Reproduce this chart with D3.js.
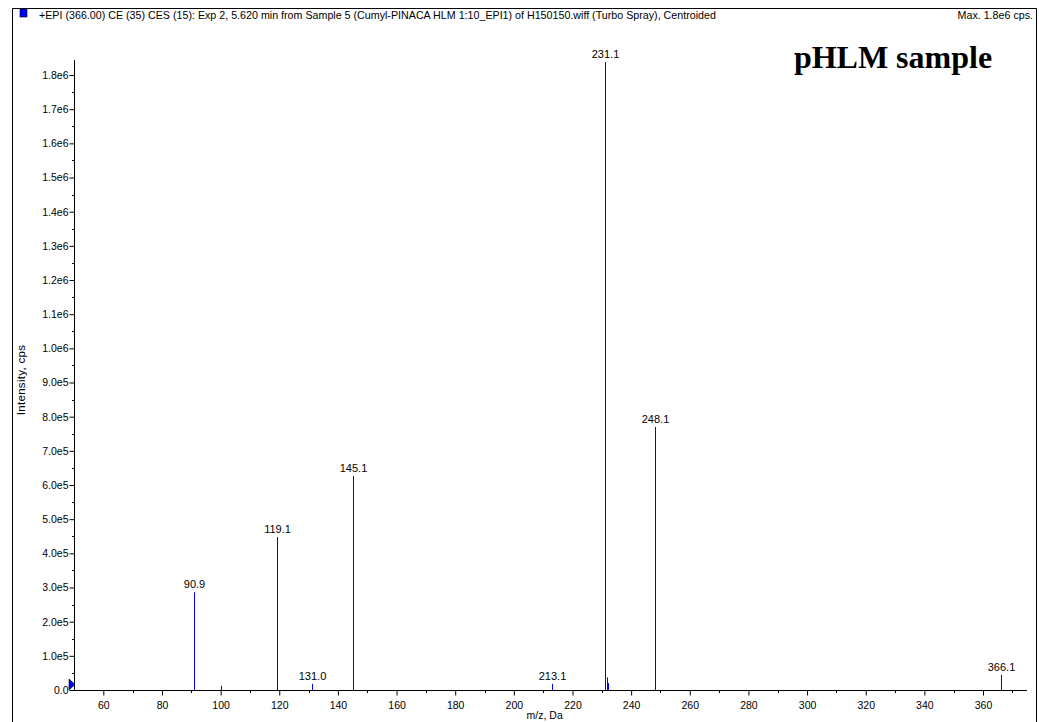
<!DOCTYPE html>
<html>
<head>
<meta charset="utf-8">
<script src="https://cdn.jsdelivr.net/npm/d3@7"></script>
<style>
  html, body { margin: 0; padding: 0; background: #fff; }
  svg { display: block; }
  text { font-family: "Liberation Sans", Arial, sans-serif; fill: #000; }
</style>
</head>
<body>
<svg id="chart" width="1039" height="722"></svg>
<script>
// ---- data ----
const peakMz     = [90.9, 100.0, 119.1, 131.0, 145.1, 213.1, 231.1, 231.6, 232.1, 248.1, 366.1];
const peakInt    = [2.86e5, 1.2e4, 4.48e5, 1.8e4, 6.26e5, 1.8e4, 1.838e6, 3.7e4, 2.0e4, 7.70e5, 4.4e4];
const peakLabels = ["90.9", "", "119.1", "131.0", "145.1", "213.1", "231.1", "", "", "248.1", "366.1"];
const xTicks     = [60, 80, 100, 120, 140, 160, 180, 200, 220, 240, 260, 280, 300, 320, 340, 360];
const yTicks     = [0, 1e5, 2e5, 3e5, 4e5, 5e5, 6e5, 7e5, 8e5, 9e5, 1e6, 1.1e6, 1.2e6, 1.3e6, 1.4e6, 1.5e6, 1.6e6, 1.7e6, 1.8e6];
const yTickLabels = ["0.0","1.0e5","2.0e5","3.0e5","4.0e5","5.0e5","6.0e5","7.0e5","8.0e5","9.0e5","1.0e6","1.1e6","1.2e6","1.3e6","1.4e6","1.5e6","1.6e6","1.7e6","1.8e6"];
const headerText = "+EPI (366.00) CE (35) CES (15): Exp 2, 5.620 min from Sample 5 (Cumyl-PINACA HLM 1:10_EPI1) of H150150.wiff (Turbo Spray), Centroided";
const maxText = "Max. 1.8e6 cps.";
const sampleTitle = "pHLM sample";
const xTitle = "m/z, Da";
const yTitle = "Intensity, cps";

// ---- layout ----
const svg = d3.select("#chart");
const pLeft = 74, pRight = 1027, pTop = 60, pBottom = 690;

const x = d3.scaleLinear().domain([50, 375]).range([pLeft, pRight]);
const y = d3.scaleLinear().domain([0, 1.844e6]).range([pBottom, pTop]);

// outer frame (left, top, right)
svg.append("path")
  .attr("d", `M12.5,722 L12.5,8.5 L1036.5,8.5 L1036.5,722`)
  .attr("fill", "none").attr("stroke", "#000").attr("stroke-width", 1);

// header marker square
svg.append("rect").attr("x", 20).attr("y", 9).attr("width", 7).attr("height", 8)
  .attr("fill", "#0000ff").attr("stroke", "#000").attr("stroke-width", 0.6);

svg.append("text").attr("x", 39).attr("y", 19).attr("font-size", 10.7).text(headerText);
svg.append("text").attr("x", 1033).attr("y", 19).attr("font-size", 10.7)
  .attr("text-anchor", "end").text(maxText);

svg.append("text").attr("x", 893).attr("y", 68)
  .attr("text-anchor", "middle")
  .style("font-family", "'Liberation Serif', 'Times New Roman', serif")
  .style("font-weight", "bold").style("font-size", "32px").text(sampleTitle);

// y axis
const yAxis = d3.axisLeft(y).tickValues(yTicks)
  .tickFormat((d, i) => yTickLabels[i]).tickSize(5).tickPadding(1);
const gy = svg.append("g").attr("transform", `translate(${pLeft + 0.5},0)`).call(yAxis);
gy.select(".domain").remove();
gy.selectAll("text").attr("font-size", 10.5).style("font-family", "'Liberation Sans', Arial, sans-serif");
// minor y ticks
const yMinor = d3.range(5e4, 1.844e6, 1e5);
svg.append("g").selectAll("line").data(yMinor).join("line")
  .attr("x1", pLeft - 2).attr("x2", pLeft)
  .attr("y1", d => Math.round(y(d)) + 0.5).attr("y2", d => Math.round(y(d)) + 0.5)
  .attr("stroke", "#000");
svg.append("line").attr("x1", pLeft + 0.5).attr("x2", pLeft + 0.5)
  .attr("y1", pTop).attr("y2", pBottom + 1).attr("stroke", "#000");

// x axis
const xAxis = d3.axisBottom(x).tickValues(xTicks).tickFormat(d3.format("d"))
  .tickSize(5).tickPadding(6);
const gx = svg.append("g").attr("transform", `translate(0,${pBottom + 0.5})`).call(xAxis);
gx.select(".domain").remove();
gx.selectAll("text").attr("font-size", 10.5).style("font-family", "'Liberation Sans', Arial, sans-serif");
const xMinor = d3.range(70, 375, 20);
svg.append("g").selectAll("line").data(xMinor).join("line")
  .attr("x1", d => Math.round(x(d)) + 0.5).attr("x2", d => Math.round(x(d)) + 0.5)
  .attr("y1", pBottom).attr("y2", pBottom + 3).attr("stroke", "#000");
svg.append("line").attr("x1", pLeft).attr("x2", pRight)
  .attr("y1", pBottom + 0.5).attr("y2", pBottom + 0.5).attr("stroke", "#000");

// axis titles
svg.append("text").attr("x", x(210.5)).attr("y", 719).attr("text-anchor", "middle")
  .attr("font-size", 10.5).text(xTitle);
svg.append("text").attr("transform", `translate(25,${380}) rotate(-90)`)
  .attr("text-anchor", "middle").attr("font-size", 11.5).attr("letter-spacing", 0.3).text(yTitle);

// baseline marker triangle
svg.append("path")
  .attr("d", `M${pLeft - 5},${pBottom - 11} L${pLeft + 1},${pBottom - 5.5} L${pLeft - 5},${pBottom} Z`)
  .attr("fill", "#0000ff").attr("stroke", "#000").attr("stroke-width", 0.6);

// peaks
const peaks = peakMz.map((m, i) => ({ m, v: peakInt[i], label: peakLabels[i] }));
svg.append("g").selectAll("line").data(peaks).join("line")
  .attr("x1", d => Math.round(x(d.m)) + 0.5).attr("x2", d => Math.round(x(d.m)) + 0.5)
  .attr("y1", pBottom).attr("y2", d => y(d.v))
  .attr("stroke", "#0000ff").attr("stroke-width", 1);

svg.append("g").selectAll("text").data(peaks.filter(d => d.label)).join("text")
  .attr("x", d => Math.round(x(d.m)) + 0.5).attr("y", d => y(d.v) - 4)
  .attr("text-anchor", "middle").attr("font-size", 11).text(d => d.label);
</script>
</body>
</html>
